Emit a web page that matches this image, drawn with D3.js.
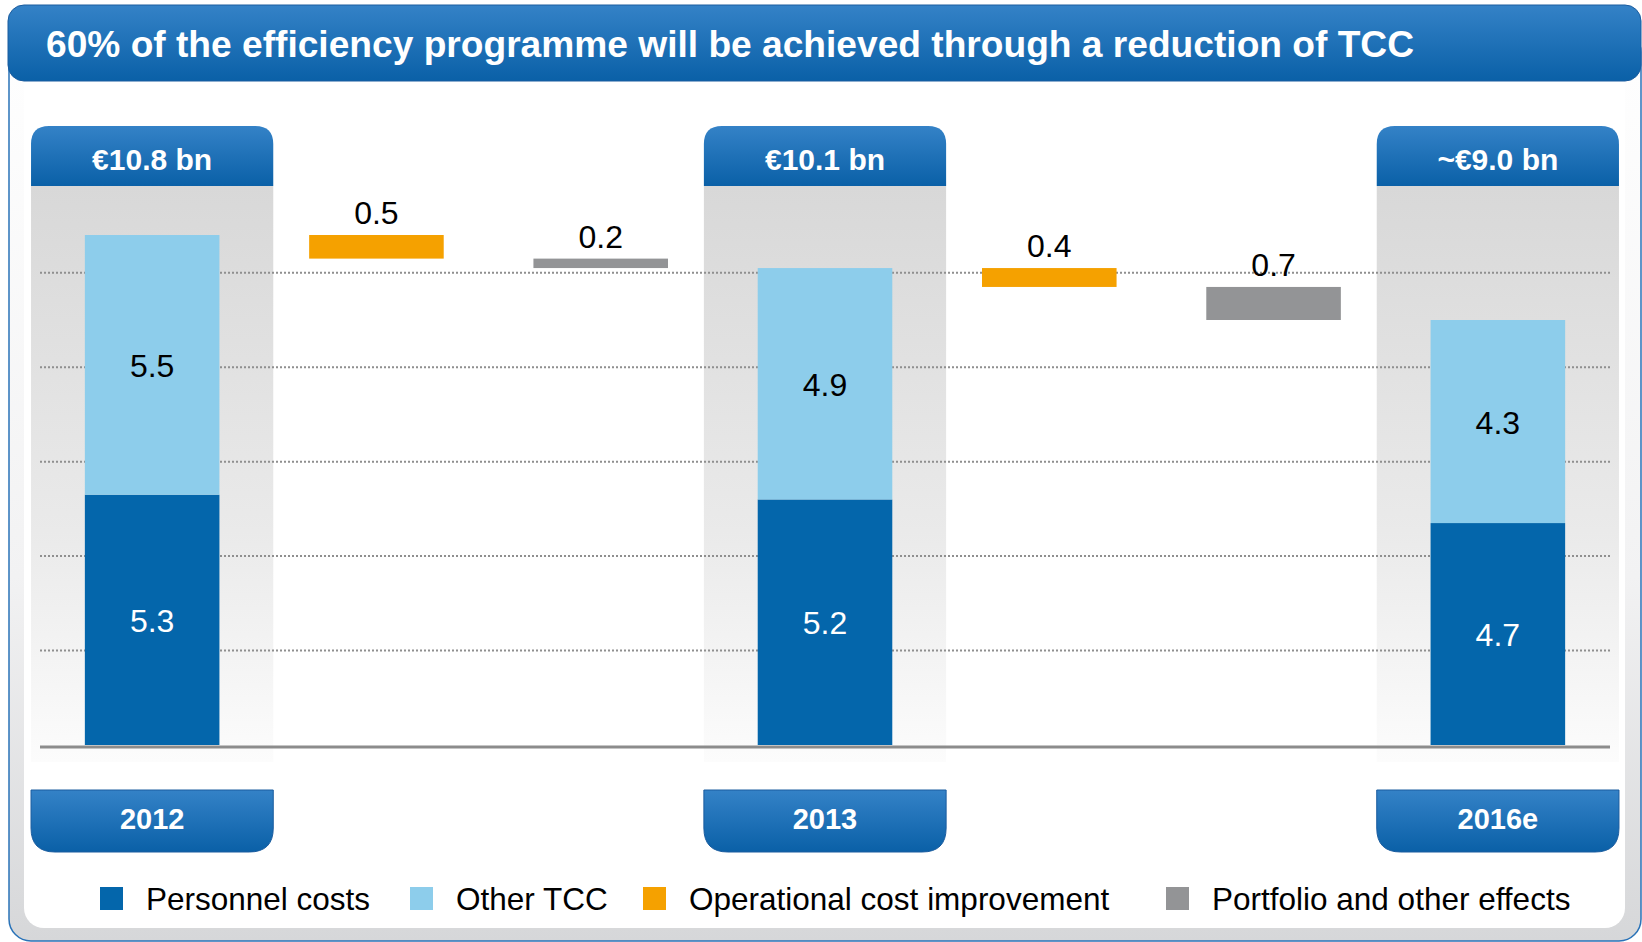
<!DOCTYPE html>
<html>
<head>
<meta charset="utf-8">
<script src="https://d3js.org/d3.v7.min.js"></script>
<style>
  body { margin: 0; background: #fff; }
  text { font-family: "Liberation Sans", Arial, sans-serif; }
</style>
</head>
<body>
<script>
// ---- data ----
var slots = ["2012", "op1", "pf1", "2013", "op2", "pf2", "2016e"];
var years = ["2012", "2013", "2016e"];
var personnel = [5.3, 5.2, 4.7];
var otherTcc = [5.5, 4.9, 4.3];
var totalLabels = ["€10.8 bn", "€10.1 bn", "~€9.0 bn"];
var opImprovement = [0.5, 0.4];   // between 2012-2013, 2013-2016e
var portfolio = [0.2, 0.7];
var gridTicks = [2, 4, 6, 8, 10];
var legendNames = ["Personnel costs", "Other TCC", "Operational cost improvement", "Portfolio and other effects"];

var colors = {personnel: "#0466ab", other: "#8dcdeb", op: "#f5a100", pf: "#939496"};

var W = 1642, H = 942;
var svg = d3.select("body").append("svg")
    .attr("width", W)
    .attr("height", H);

var defs = svg.append("defs");
function vgrad(id, stops) {
  var g = defs.append("linearGradient").attr("id", id)
      .attr("x1", 0).attr("y1", 0).attr("x2", 0).attr("y2", 1);
  stops.forEach(s => g.append("stop").attr("offset", s[0]).attr("stop-color", s[1]));
}
vgrad("blueGrad", [[0, "#3482c7"], [1, "#0a60a7"]]);
vgrad("colGrad", [[0, "#d8d8d8"], [0.6, "#eaeaea"], [1, "#fcfcfc"]]);
vgrad("ringGrad", [[0, "#ffffff"], [0.6, "#f2f2f3"], [1, "#d6d7d9"]]);

// ---- frame ----
svg.append("rect")
    .attr("x", 9).attr("y", 30).attr("width", 1632).attr("height", 911)
    .attr("rx", 22)
    .attr("fill", "url(#ringGrad)")
    .attr("stroke", "#2a73b8").attr("stroke-width", 1.5);
svg.append("rect")
    .attr("x", 24).attr("y", 60).attr("width", 1601).attr("height", 868)
    .attr("rx", 20)
    .attr("fill", "#fff");

// title bar
svg.append("rect")
    .attr("x", 8).attr("y", 5).attr("width", 1633).attr("height", 76)
    .attr("rx", 16)
    .attr("fill", "url(#blueGrad)")
    .attr("stroke", "#1a5c9f").attr("stroke-width", 1);
svg.append("text")
    .attr("x", 46).attr("y", 57)
    .attr("fill", "#fff")
    .attr("font-size", 37).attr("font-weight", "bold")
    .attr("textLength", 1368).attr("lengthAdjust", "spacingAndGlyphs")
    .text("60% of the efficiency programme will be achieved through a reduction of TCC");

// ---- scales ----
var x = d3.scaleBand()
    .domain(slots)
    .range([40, 1610])
    .paddingInner(0.4)
    .paddingOuter(0.2);

var y = d3.scaleLinear()
    .domain([0, 10.8])
    .range([745, 235]);

var colW = x.step() * 1.08;
function cx(s) { return x(s) + x.bandwidth() / 2; }

// column backgrounds
svg.selectAll(".colbg").data(years).enter().append("rect")
    .attr("class", "colbg")
    .attr("x", d => cx(d) - colW / 2)
    .attr("y", 186)
    .attr("width", colW)
    .attr("height", 762 - 186)
    .attr("fill", "url(#colGrad)");

// gridlines
svg.selectAll(".grid").data(gridTicks).enter().append("line")
    .attr("class", "grid")
    .attr("x1", 40).attr("x2", 1610)
    .attr("y1", d => y(d)).attr("y2", d => y(d))
    .attr("stroke", "#8f8f8f")
    .attr("stroke-width", 2)
    .attr("stroke-dasharray", "2,2");

// headers (rounded top)
function topRounded(x0, y0, w, h, r) {
  return "M" + x0 + "," + (y0 + h) + "V" + (y0 + r) +
    "Q" + x0 + "," + y0 + " " + (x0 + r) + "," + y0 +
    "H" + (x0 + w - r) + "Q" + (x0 + w) + "," + y0 + " " + (x0 + w) + "," + (y0 + r) +
    "V" + (y0 + h) + "Z";
}
function bottomRounded(x0, y0, w, h, r) {
  return "M" + x0 + "," + y0 + "H" + (x0 + w) + "V" + (y0 + h - r) +
    "Q" + (x0 + w) + "," + (y0 + h) + " " + (x0 + w - r) + "," + (y0 + h) +
    "H" + (x0 + r) + "Q" + x0 + "," + (y0 + h) + " " + x0 + "," + (y0 + h - r) + "Z";
}

svg.selectAll(".hdr").data(years).enter().append("path")
    .attr("class", "hdr")
    .attr("d", d => topRounded(cx(d) - colW / 2, 126, colW, 60, 18))
    .attr("fill", "url(#blueGrad)");
svg.selectAll(".hdrText").data(years).enter().append("text")
    .attr("class", "hdrText")
    .attr("x", d => cx(d)).attr("y", 170)
    .attr("text-anchor", "middle")
    .attr("fill", "#fff").attr("font-size", 30).attr("font-weight", "bold")
    .text((d, i) => totalLabels[i]);

// year boxes (rounded bottom)
svg.selectAll(".yr").data(years).enter().append("path")
    .attr("class", "yr")
    .attr("d", d => bottomRounded(cx(d) - colW / 2, 790, colW, 62, 24))
    .attr("fill", "url(#blueGrad)")
    .attr("stroke", "#1a5c9f").attr("stroke-width", 1);
svg.selectAll(".yrText").data(years).enter().append("text")
    .attr("class", "yrText")
    .attr("x", d => cx(d)).attr("y", 829)
    .attr("text-anchor", "middle")
    .attr("fill", "#fff").attr("font-size", 29).attr("font-weight", "bold")
    .text(d => d);

// ---- stacked bars ----
years.forEach(function(yr, i) {
  var p = personnel[i], o = otherTcc[i];
  svg.append("rect")
      .attr("x", x(yr)).attr("width", x.bandwidth())
      .attr("y", y(p)).attr("height", y(0) - y(p))
      .attr("fill", colors.personnel);
  svg.append("rect")
      .attr("x", x(yr)).attr("width", x.bandwidth())
      .attr("y", y(p + o)).attr("height", y(p) - y(p + o))
      .attr("fill", colors.other);
  svg.append("text")
      .attr("x", cx(yr)).attr("y", (y(0) + y(p)) / 2 + 12)
      .attr("text-anchor", "middle").attr("font-size", 32)
      .attr("fill", "#fff").text(p.toFixed(1));
  svg.append("text")
      .attr("x", cx(yr)).attr("y", (y(p) + y(p + o)) / 2 + 12)
      .attr("text-anchor", "middle").attr("font-size", 32)
      .attr("fill", "#000").text(o.toFixed(1));
});

// ---- bridge steps ----
var level = personnel[0] + otherTcc[0];
var steps = [
  {slot: "op1", v: opImprovement[0], c: colors.op},
  {slot: "pf1", v: portfolio[0], c: colors.pf},
  {slot: "op2", v: opImprovement[1], c: colors.op},
  {slot: "pf2", v: portfolio[1], c: colors.pf}
];
steps.forEach(function(s) {
  var top = level, bottom = level - s.v;
  svg.append("rect")
      .attr("x", x(s.slot)).attr("width", x.bandwidth())
      .attr("y", y(top)).attr("height", y(bottom) - y(top))
      .attr("fill", s.c);
  svg.append("text")
      .attr("x", cx(s.slot)).attr("y", y(top) - 11)
      .attr("text-anchor", "middle").attr("font-size", 32)
      .attr("fill", "#000").text(s.v.toFixed(1));
  level = bottom;
});

// baseline
svg.append("line")
    .attr("x1", 40).attr("x2", 1610)
    .attr("y1", y(0) + 2).attr("y2", y(0) + 2)
    .attr("stroke", "#8c8c8c").attr("stroke-width", 3);

// ---- legend ----
var legColors = [colors.personnel, colors.other, colors.op, colors.pf];
var legX = [100, 410, 643, 1166];
legendNames.forEach(function(n, i) {
  svg.append("rect")
      .attr("x", legX[i]).attr("y", 887).attr("width", 23).attr("height", 23)
      .attr("fill", legColors[i]);
  svg.append("text")
      .attr("x", legX[i] + 46).attr("y", 910)
      .attr("font-size", 31.5).attr("fill", "#000")
      .text(n);
});
</script>
</body>
</html>
